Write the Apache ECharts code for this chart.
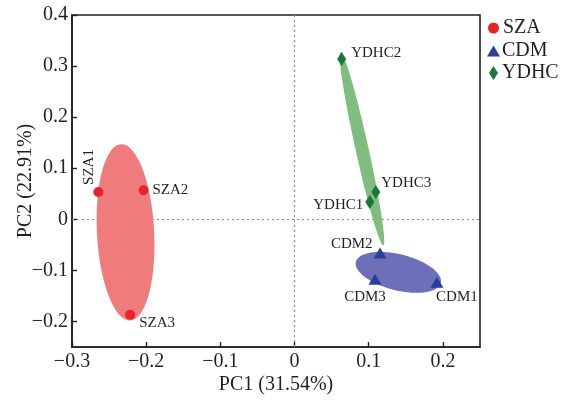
<!DOCTYPE html>
<html>
<head>
<meta charset="utf-8">
<script src="https://cdn.jsdelivr.net/npm/echarts@6/dist/echarts.min.js"></script>
<style>html,body{margin:0;padding:0;background:#fff}#c{width:572px;height:400px}</style>
</head>
<body>
<div id="c"></div>
<script>
// ---- data ----
const groups = ['SZA', 'CDM', 'YDHC'];
const szaNames = ['SZA1', 'SZA2', 'SZA3'];
const szaX = [-0.2645, -0.2036, -0.2216];
const szaY = [0.0535, 0.0569, -0.1869];
const cdmNames = ['CDM1', 'CDM2', 'CDM3'];
const cdmX = [0.1919, 0.1153, 0.1085];
const cdmY = [-0.1230, -0.0660, -0.1176];
const ydhcNames = ['YDHC1', 'YDHC2', 'YDHC3'];
const ydhcX = [0.1014, 0.0635, 0.1095];
const ydhcY = [0.0339, 0.3137, 0.0536];
// confidence ellipses: [centerX, centerY, axis1X, axis1Y, axis2X, axis2Y] in data units
const ellipseSZA = [-0.2278, -0.0255, -0.0062, 0.1725, 0.0385, 0.0029];
const ellipseCDM = [0.1399, -0.1039, 0.0572, -0.0207, -0.0059, -0.0343];
const ellipseYDHC = [0.0909, 0.1382, -0.0288, 0.1892, 0.0085, 0.0027];
const xName = 'PC1 (31.54%)';
const yName = 'PC2 (22.91%)';

// ---- styles ----
const FONT = '"Liberation Serif", "Times New Roman", serif';
const TXT = '#231f20';
const labelStyle = {
  SZA1: {position: 'inside', rotate: 90, offset: [25, -9]},
  SZA2: {position: 'right', distance: 4, offset: [0, 0]},
  SZA3: {position: 'right', distance: 4, offset: [0, 8]},
  CDM1: {position: 'bottom', distance: 2, offset: [20, 0]},
  CDM2: {position: 'left', distance: 1, offset: [0, -9]},
  CDM3: {position: 'bottom', distance: 5, offset: [-10, 0]},
  YDHC1: {position: 'left', distance: 2, offset: [0, 3]},
  YDHC2: {position: 'right', distance: 5, offset: [0, -6]},
  YDHC3: {position: 'right', distance: 1, offset: [0, -9]}
};

function pts(names, xs, ys) {
  return names.map((n, i) => {
    const ls = labelStyle[n];
    return {
      name: n,
      value: [xs[i], ys[i]],
      label: Object.assign({show: true, formatter: n, fontSize: 15, fontFamily: FONT, color: TXT}, ls)
    };
  });
}

function ellipseSeries(name, e, color) {
  return {
    type: 'custom',
    name: name,
    z: 2,
    silent: true,
    data: [e],
    encode: {x: 0, y: 1},
    renderItem: function (params, api) {
      const cx = api.value(0), cy = api.value(1);
      const ax = api.value(2), ay = api.value(3), bx = api.value(4), by = api.value(5);
      const points = [];
      const N = 120;
      for (let k = 0; k < N; k++) {
        const t = k / N * Math.PI * 2;
        points.push(api.coord([cx + Math.cos(t) * ax + Math.sin(t) * bx, cy + Math.cos(t) * ay + Math.sin(t) * by]));
      }
      return {type: 'polygon', shape: {points: points}, style: {fill: color}};
    }
  };
}

function tickFmt(v) {
  if (Math.abs(v * 10 - Math.round(v * 10)) > 1e-6) return '';
  const r = Math.round(v * 10) / 10;
  if (r === 0) return '0';
  return (r < 0 ? '\u2212' : '') + Math.abs(r).toFixed(1);
}

const chart = echarts.init(document.getElementById('c'), null, {renderer: 'canvas'});
const axisCommon = {
  axisLine: {show: true, onZero: false, lineStyle: {color: TXT, width: 1.6}},
  axisTick: {show: true, inside: true, length: 5, lineStyle: {color: TXT, width: 1.4}},
  splitLine: {show: false},
  nameMoveOverlap: false,
  nameTextStyle: {fontSize: 20, fontFamily: FONT, color: TXT}
};
chart.setOption({
  animation: false,
  backgroundColor: '#fff',
  grid: {left: 72, top: 15, right: 92, bottom: 53, containLabel: false, outerBoundsMode: 'none', show: true, borderColor: TXT, borderWidth: 1.6, backgroundColor: 'transparent'},
  xAxis: Object.assign({}, axisCommon, {
    type: 'value', min: -0.3, max: 0.25, splitNumber: 6,
    name: xName, nameLocation: 'middle', nameGap: 28,
    axisLabel: {fontSize: 20, fontFamily: FONT, color: TXT, margin: 5, showMaxLabel: false, formatter: tickFmt}
  }),
  yAxis: Object.assign({}, axisCommon, {
    type: 'value', min: -0.25, max: 0.4, splitNumber: 7,
    name: yName, nameLocation: 'middle', nameGap: 36,
    axisLabel: {fontSize: 20, fontFamily: FONT, color: TXT, margin: 4, showMinLabel: false, formatter: tickFmt}
  }),
  legend: [
    {data: [{name: 'SZA', icon: 'circle'}], left: 488, top: 18, itemWidth: 11, itemHeight: 11, padding: 0, itemGap: 0, textStyle: {fontSize: 20, fontFamily: FONT, color: TXT, padding: [0, 0, 0, -1]}, selectedMode: false},
    {data: [{name: 'CDM', icon: 'triangle'}], left: 487, top: 41, itemWidth: 13, itemHeight: 11, padding: 0, itemGap: 0, textStyle: {fontSize: 20, fontFamily: FONT, color: TXT, padding: [0, 0, 0, -3]}, selectedMode: false},
    {data: [{name: 'YDHC', icon: 'diamond'}], left: 489, top: 63, itemWidth: 9, itemHeight: 14, padding: 0, itemGap: 0, textStyle: {fontSize: 20, fontFamily: FONT, color: TXT, padding: [0, 0, 0, -1]}, selectedMode: false}
  ],
  series: [
    {
      type: 'line', name: 'zero', data: [], z: 1, silent: true,
      markLine: {
        z: 1, silent: true, symbol: ['none', 'none'], label: {show: false},
        lineStyle: {color: '#8c8c8c', type: [2, 3], width: 1.2},
        data: [{xAxis: 0}, {yAxis: 0}]
      }
    },
    ellipseSeries('SZA ellipse', ellipseSZA, '#f07b7c'),
    ellipseSeries('YDHC ellipse', ellipseYDHC, '#7dbd7e'),
    ellipseSeries('CDM ellipse', ellipseCDM, '#6d70b9'),
    {type: 'scatter', name: 'SZA', z: 3, symbol: 'circle', symbolSize: 10, itemStyle: {color: '#e8232a', opacity: 1}, data: pts(szaNames, szaX, szaY)},
    {type: 'scatter', name: 'CDM', z: 3, symbol: 'triangle', symbolSize: [13, 11], itemStyle: {color: '#2a3e9b', opacity: 1}, data: pts(cdmNames, cdmX, cdmY)},
    {type: 'scatter', name: 'YDHC', z: 3, symbol: 'diamond', symbolSize: [9, 14], itemStyle: {color: '#17783a', opacity: 1}, data: pts(ydhcNames, ydhcX, ydhcY)}
  ]
});
</script>
</body>
</html>
